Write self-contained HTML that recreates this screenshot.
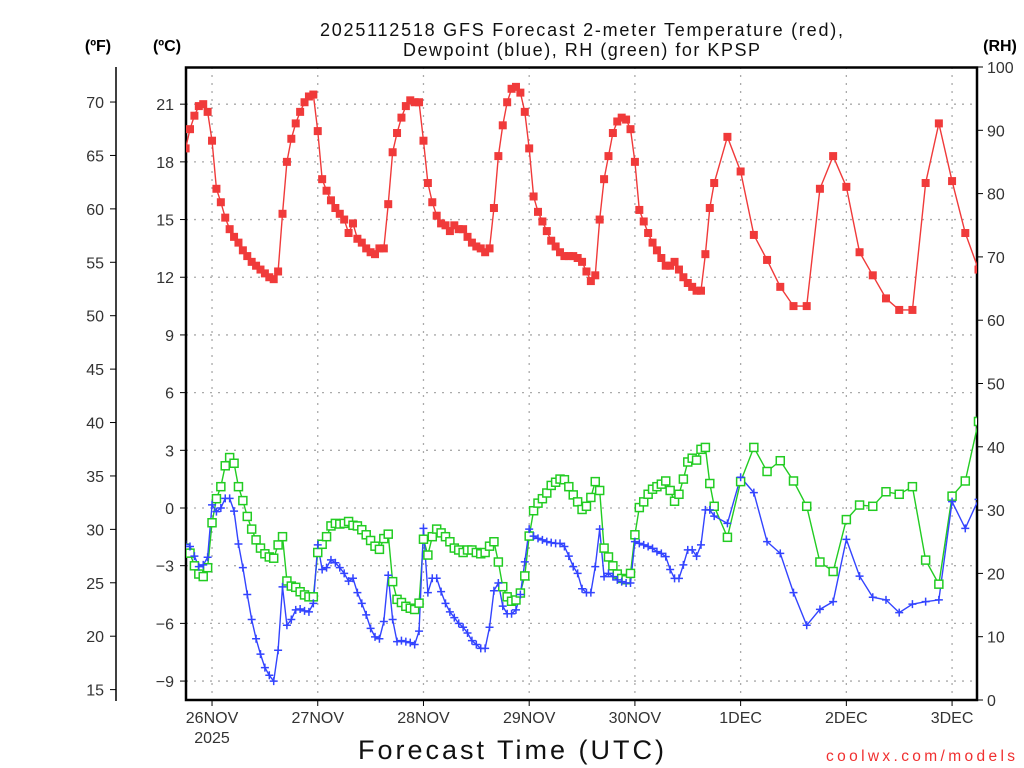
<!DOCTYPE html>
<html><head><meta charset="utf-8"><style>
body{margin:0;background:#fff}
svg{display:block;font-family:"Liberation Sans",sans-serif}
.tk{font-size:16px;fill:#333}
</style></head><body>
<svg id="c" width="1024" height="768" viewBox="0 0 1024 768">
<defs><clipPath id="pc"><rect x="186" y="67" width="791" height="633"/></clipPath></defs>
<g id="title">
<text x="320" y="36" font-size="18" fill="#111" textLength="523" lengthAdjust="spacing">2025112518 GFS Forecast 2-meter Temperature (red),</text>
<text x="403" y="56" font-size="18" fill="#111" textLength="357" lengthAdjust="spacing">Dewpoint (blue), RH (green) for KPSP</text>
</g>
<text x="98" y="51" text-anchor="middle" font-size="16" font-weight="bold">(ºF)</text>
<text x="167" y="51" text-anchor="middle" font-size="16" font-weight="bold">(ºC)</text>
<text x="1000" y="51" text-anchor="middle" font-size="16" font-weight="bold">(RH)</text>
<g id="grid"></g>
<g id="axes"></g>
<g id="series" clip-path="url(#pc)"></g>
<text x="358" y="759" font-size="27" fill="#111" textLength="306" lengthAdjust="spacing">Forecast Time (UTC)</text>
<text x="826" y="761" font-size="15.5" fill="#f03030" textLength="189" lengthAdjust="spacing">coolwx.com/models</text>
</svg>
<script>
const hourlyTemp=[18.7,19.7,20.4,20.9,21.0,20.6,19.1,16.6,15.9,15.1,14.5,14.1,13.8,13.4,13.1,12.8,12.6,12.4,12.2,12.0,11.9,12.3,15.3,18.0,19.2,20.0,20.6,21.1,21.4,21.5,19.6,17.1,16.5,16.0,15.6,15.3,15.0,14.3,14.8,14.0,13.8,13.5,13.3,13.2,13.5,13.5,15.8,18.5,19.5,20.3,20.9,21.2,21.1,21.1,19.1,16.9,15.9,15.2,14.8,14.7,14.4,14.7,14.5,14.5,14.1,13.8,13.6,13.5,13.3,13.5,15.6,18.3,19.9,21.1,21.8,21.9,21.6,20.6,18.7,16.2,15.4,14.9,14.4,13.9,13.6,13.3,13.1,13.1,13.1,13.0,12.8,12.3,11.8,12.1,15.0,17.1,18.3,19.5,20.1,20.3,20.2,19.7,18.0,15.5,14.9,14.3,13.8,13.4,13.0,12.6,12.6,12.8,12.4,12.0,11.7,11.5,11.3,11.3,13.2,15.6,16.9];
const threeHourTemp=[19.3,17.5,14.2,12.9,11.5,10.5,10.5,16.6,18.3,16.7,13.3,12.1,10.9,10.3,10.3,16.9,20.0,17.0,14.3,12.4];
const hourlyDew=[-1.9,-2.0,-2.5,-3.05,-2.96,-2.56,0.16,-0.19,0,0.5,0.5,-0.16,-1.87,-3.1,-4.5,-5.8,-6.8,-7.6,-8.3,-8.7,-9.0,-7.4,-4.1,-6.1,-5.8,-5.3,-5.25,-5.35,-5.4,-4.96,-1.92,-3.2,-3.1,-2.7,-2.85,-3.1,-3.4,-3.8,-3.65,-4.4,-4.96,-5.56,-6.26,-6.7,-6.8,-5.9,-3.5,-5.8,-6.95,-6.9,-6.95,-7.0,-7.1,-6.4,-1.06,-4.4,-3.65,-3.65,-4.35,-4.96,-5.4,-5.7,-6.0,-6.2,-6.5,-6.9,-7.1,-7.3,-7.3,-6.2,-4.3,-3.9,-5.1,-5.5,-5.5,-5.3,-4.5,-2.8,-1.1,-1.46,-1.58,-1.66,-1.75,-1.8,-1.84,-1.84,-2.0,-2.5,-3.05,-3.4,-4.2,-4.4,-4.4,-3.05,-1.1,-3.57,-3.4,-3.57,-3.74,-3.83,-3.9,-3.9,-1.75,-1.84,-1.92,-2.0,-2.1,-2.27,-2.36,-2.53,-3.2,-3.66,-3.66,-2.96,-2.18,-2.18,-2.5,-1.92,-0.1,-0.1,-0.42];
const threeHourDew=[-0.8,1.6,0.8,-1.75,-2.36,-4.4,-6.1,-5.27,-4.87,-1.63,-3.54,-4.64,-4.78,-5.44,-5.0,-4.87,-4.78,0.33,-1.06,0.45];
const hourlyRH=[24.0,23.2,21.2,19.9,19.5,20.9,28.0,31.8,33.7,37.0,38.3,37.4,33.7,31.5,29.0,27.0,25.3,24.0,23.1,22.6,22.4,24.5,25.8,18.8,18.0,17.8,17.1,16.6,16.3,16.3,23.3,24.6,25.8,27.5,27.9,27.8,27.9,28.2,27.6,27.5,26.9,26.1,25.2,24.3,23.8,25.5,26.2,18.7,15.9,15.4,14.8,14.5,14.3,15.3,25.4,22.9,25.8,27.0,26.4,25.8,25.0,24.0,23.7,23.3,23.7,23.7,23.3,23.1,23.3,24.3,25.0,21.8,17.9,16.3,15.6,15.8,16.9,19.6,25.9,29.9,31.1,31.8,32.7,33.9,34.4,34.9,34.8,33.7,32.4,31.3,30.1,30.6,32.0,34.5,33.1,24.0,22.6,21.2,19.9,19.2,19.0,20.0,26.1,30.4,31.3,32.5,33.3,33.7,34.1,34.6,33.1,31.4,32.5,34.9,37.6,38.2,37.9,39.6,39.9,34.2,30.6];
const threeHourRH=[25.7,34.5,39.9,36.1,37.8,34.6,30.6,21.8,20.3,28.5,30.8,30.6,32.9,32.5,33.7,22.1,18.3,32.2,34.6,44.0];
const dayLabels=["26NOV","27NOV","28NOV","29NOV","30NOV","1DEC","2DEC","3DEC"];
const celsiusTicks=[21,18,15,12,9,6,3,0,-3,-6,-9];
const fahrenheitTicks=[70,65,60,55,50,45,40,35,30,25,20,15];
const rhTicks=[0,10,20,30,40,50,60,70,80,90,100];

const NS="http://www.w3.org/2000/svg";
const X=h=>185.6+4.405*h;
const YC=c=>508-19.23*c;
const YR=r=>700-6.33*r;
function el(tag,attrs,parent,text){const e=document.createElementNS(NS,tag);for(const k in attrs)e.setAttribute(k,attrs[k]);if(text!==undefined)e.textContent=text;parent.appendChild(e);return e;}
const hours=[];for(let i=0;i<hourlyTemp.length;i++)hours.push(i);
for(let i=0;i<threeHourTemp.length;i++)hours.push(123+3*i);
const temp=hourlyTemp.concat(threeHourTemp),dew=hourlyDew.concat(threeHourDew),rh=hourlyRH.concat(threeHourRH);

const grid=document.getElementById('grid'),axes=document.getElementById('axes'),series=document.getElementById('series');
celsiusTicks.forEach(c=>{const g=el('line',{x1:186,x2:977,y1:YC(c),y2:YC(c),stroke:'#aaa','stroke-width':1.3,'stroke-dasharray':'2,6'},grid);


el('line',{x1:180,x2:186,y1:YC(c),y2:YC(c),stroke:'#000','stroke-width':1},axes);
const t=el('text',{x:174,y:YC(c)+6,'text-anchor':'end',class:'tk'},axes,c<0?'\u2212'+(-c):String(c));

});
dayLabels.forEach((d,i)=>{const x=X(6+24*i);
const g=el('line',{x1:x,x2:x,y1:67,y2:700,stroke:'#aaa','stroke-width':1.3,'stroke-dasharray':'2,6'},grid);


el('line',{x1:x,x2:x,y1:700,y2:706,stroke:'#000','stroke-width':1},axes);
const t=el('text',{x:x,y:723,'text-anchor':'middle',class:'tk'},axes,d);

});
const yr=el('text',{x:X(6),y:743,'text-anchor':'middle',class:'tk'},axes,'2025');


fahrenheitTicks.forEach(f=>{const y=YC((f-32)*5/9);
el('line',{x1:110,x2:116,y1:y,y2:y,stroke:'#000','stroke-width':1},axes);
const t=el('text',{x:104,y:y+6,'text-anchor':'end',class:'tk'},axes,String(f));

});
rhTicks.forEach(r=>{el('line',{x1:977,x2:983,y1:YR(r),y2:YR(r),stroke:'#000','stroke-width':1},axes);
const t=el('text',{x:987,y:YR(r)+6,class:'tk'},axes,String(r));

});
el('line',{x1:116,x2:116,y1:67,y2:701,stroke:'#000','stroke-width':1.5},axes);
el('rect',{x:186,y:67.5,width:791,height:632.5,fill:'none',stroke:'#000','stroke-width':2.5},axes);

function line(vals,yf,color,name){const p=el('polyline',{points:vals.map((v,i)=>X(hours[i])+','+yf(v)).join(' '),fill:'none',stroke:color,'stroke-width':1.4},series);

}
line(rh,YR,'#22cc22','rh-line');
line(dew,YC,'#3344ff','dewpoint-line');
line(temp,YC,'#f03a3a','temperature-line');
rh.forEach((v,i)=>{const m=el('rect',{x:X(hours[i])-4,y:YR(v)-4,width:8,height:8,fill:'#fff',stroke:'#22cc22','stroke-width':1.5},series);

});
dew.forEach((v,i)=>{const x=X(hours[i]),y=YC(v);const m=el('path',{d:`M${x-4},${y}H${x+4}M${x},${y-4}V${y+4}`,stroke:'#3344ff','stroke-width':1.5},series);

});
temp.forEach((v,i)=>{const m=el('rect',{x:X(hours[i])-4,y:YC(v)-4,width:8,height:8,fill:'#f03a3a'},series);

});
</script>
</body></html>
